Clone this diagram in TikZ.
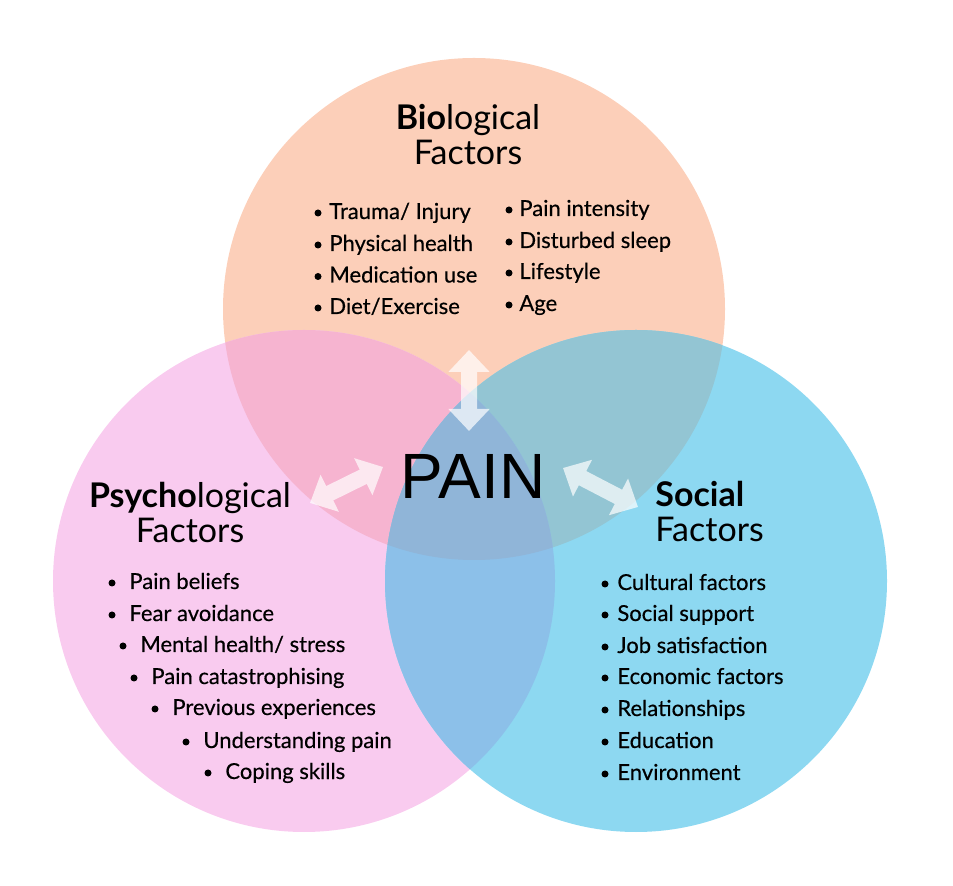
\documentclass[tikz,border=0pt]{standalone}
\usepackage{fontspec}
\setmainfont{Lato}
\newfontfamily\itemfont{Lato}[FakeBold=0.4]
\newfontfamily\painfont{Liberation Sans}
\usetikzlibrary{arrows.meta}
\definecolor{biocol}{HTML}{FCCFB9}
\definecolor{psycol}{HTML}{F9CBEF}
\definecolor{soccol}{HTML}{8DD8F1}
\definecolor{biopsycol}{HTML}{F6B4D0}
\definecolor{biosoccol}{HTML}{93C5D3}
\definecolor{psysoccol}{HTML}{8CC0E9}
\definecolor{allcol}{HTML}{90B5D8}
\begin{document}
\begin{tikzpicture}[x=0.5pt, y=-0.5pt, line join=round, every node/.style={inner sep=0pt}, declare function={r=251;},
	title/.style={font=\fontsize{17}{17.5}\selectfont},
	item/.style={font=\itemfont\fontsize{11}{13}\selectfont, anchor=base west},
	twoway/.style={line width=8pt, white, {Triangle[width=20pt, length=11pt]}-{Triangle[width=20pt, length=11pt]}}]
	
	\useasboundingbox (0,0) rectangle (953,886);
	
	\coordinate (bio) at (474,309);
	\coordinate (psy) at (304,581);
	\coordinate (soc) at (636,581);
	
	\fill[biocol] (bio) circle[radius=r];
	\fill[psycol] (psy) circle[radius=r];
	\fill[soccol] (soc) circle[radius=r];
	\begin{scope}
		\clip (bio) circle[radius=r];
		\fill[biopsycol] (psy) circle[radius=r];
		\fill[biosoccol] (soc) circle[radius=r];
	\end{scope}
	\begin{scope}
		\clip (psy) circle[radius=r];
		\fill[psysoccol] (soc) circle[radius=r];
		\clip (bio) circle[radius=r];
		\fill[allcol] (soc) circle[radius=r];
	\end{scope}
	
	\node[title, align=center] (biot) at (468,134.5) {\textbf{Bio}logical\\Factors};
	\node[title, align=center] (psyt) at (190,513) {\textbf{Psycho}logical\\Factors};
	\node[title, align=left, anchor=west] (soct) at (655,511.5) {\textbf{Social}\\Factors};
	
	\node[font=\painfont\fontsize{32}{32}\selectfont, anchor=base] (pain) at (473,499) {PAIN};
	
	\coordinate (biotip) at (469,350);
	\coordinate (paintop) at (469,431);
	\coordinate (psytip) at (310,503);
	\coordinate (painleft) at (383,467);
	\coordinate (painright) at (563,468);
	\coordinate (soctip) at (638,507);
	
	\begin{scope}[transparency group, opacity=0.7]
		\draw[twoway] (biotip) -- (paintop);
		\draw[twoway] (psytip) -- (painleft);
		\draw[twoway] (painright) -- (soctip);
	\end{scope}
	
	\foreach \y/\t in {219/{Trauma/ Injury}, 251/Physical health, 282.5/Medication use, 314/{Diet/Exercise}} {
		\fill (318,\y-6) circle[radius=3.5];
		\node[item] at (329,\y) {\t};
	}
	\foreach \y/\t in {216/Pain intensity, 248/Disturbed sleep, 279/Lifestyle, 311/Age} {
		\fill (509,\y-6) circle[radius=3.5];
		\node[item] at (519,\y) {\t};
	}
	\foreach \x/\y/\t in {112/589/Pain beliefs, 112/621/Fear avoidance, 123/652/{Mental health/ stress}, 134/684/Pain catastrophising, 155/715/Previous experiences, 186/748/Understanding pain, 208/779/Coping skills} {
		\fill (\x,\y-6) circle[radius=3.5];
		\node[item] at (\x+17,\y) {\t};
	}
	\foreach \y/\t in {590/Cultural factors, 621/Social support, 653/Job satisfaction, 684/Economic factors, 716/Relationships, 748/Education, 780/Environment} {
		\fill (605,\y-6) circle[radius=3.5];
		\node[item] at (617,\y) {\t};
	}
	
\end{tikzpicture}
\end{document}
